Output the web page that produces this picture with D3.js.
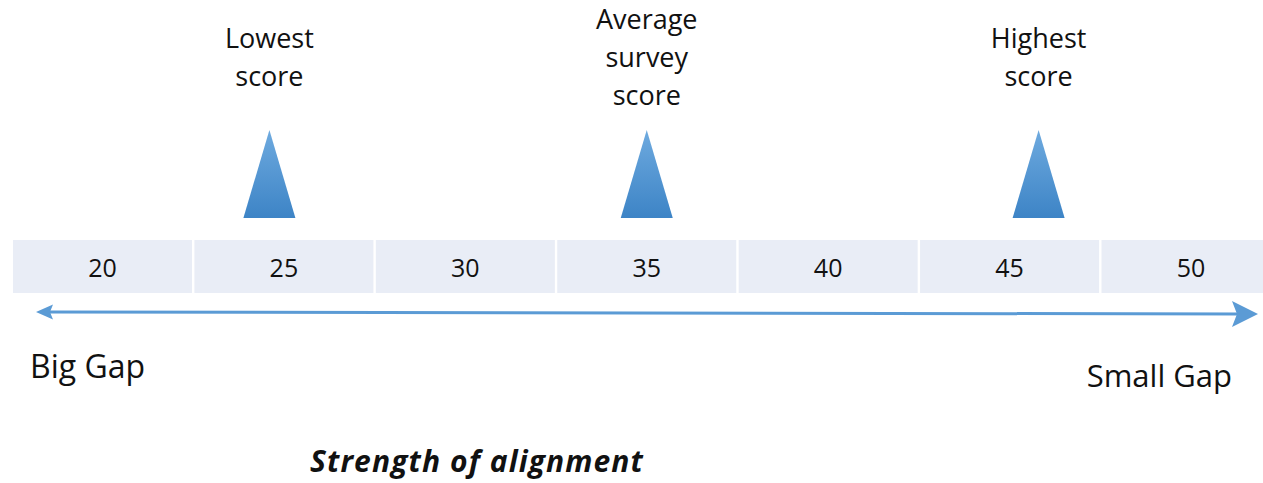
<!DOCTYPE html>
<html><head><meta charset="utf-8">
<script src="https://cdn.jsdelivr.net/npm/d3@7"></script>
<style>body{margin:0;background:#fff;overflow:hidden}svg{display:block}</style>
</head><body>
<script>
const ticks = [20, 25, 30, 35, 40, 45, 50];
const markerLabels = [["Lowest", "score"], ["Average", "survey", "score"], ["Highest", "score"]];
const markerValues = [24.6, 35.0, 45.8];
const endLabels = ["Big Gap", "Small Gap"];
const axisTitle = "Strength of alignment";

const W = 1263, H = 483;
const svg = d3.select("body").append("svg").attr("width", W).attr("height", H);
const x = d3.scaleLinear().domain([20, 50]).range([102.5, 1191]);
const step = x(25) - x(20);
const font = "'Open Sans', sans-serif";

const defs = svg.append("defs");
const g = defs.append("linearGradient").attr("id", "tri").attr("x1", 0).attr("y1", 0).attr("x2", 0).attr("y2", 1);
g.append("stop").attr("offset", "0%").attr("stop-color", "#6eaadf");
g.append("stop").attr("offset", "100%").attr("stop-color", "#3d84c6");

// band cells
svg.selectAll("rect.cell").data(ticks).enter().append("rect")
  .attr("x", d => x(d) - (step - 2.4) / 2).attr("y", 240)
  .attr("width", step - 2.4).attr("height", 53).attr("fill", "#e9edf6");
svg.selectAll("text.tick").data(ticks).enter().append("text")
  .attr("x", d => x(d)).attr("y", 277).attr("text-anchor", "middle")
  .attr("font-family", font).attr("font-size", 25).attr("fill", "#111").text(d => d);

// triangles
svg.selectAll("path.tri").data(markerValues).enter().append("path")
  .attr("d", d => `M${x(d)},130 L${x(d) + 26},218 L${x(d) - 26},218 Z`)
  .attr("fill", "url(#tri)");

// marker labels
markerLabels.forEach((lines, i) => {
  const t = svg.append("text").attr("text-anchor", "middle").attr("font-family", font)
    .attr("font-size", 27).attr("fill", "#111");
  const y0 = lines.length === 3 ? 29 : 48;
  lines.forEach((l, j) => t.append("tspan").attr("x", x(markerValues[i])).attr("y", y0 + j * 38).text(l));
});

// arrow
const ax0 = 36, ax1 = 1258;
svg.append("line").attr("x1", ax0 + 12).attr("y1", 312).attr("x2", ax1 - 18).attr("y2", 314)
  .attr("stroke", "#5b9bd5").attr("stroke-width", 3);
svg.append("path").attr("d", `M${ax0},312 L${ax0 + 17},304.5 L${ax0 + 14},312 L${ax0 + 17},319.5 Z`).attr("fill", "#5b9bd5");
svg.append("path").attr("d", `M${ax1},314 L${ax1 - 26},301 L${ax1 - 21},314 L${ax1 - 26},327 Z`).attr("fill", "#5b9bd5");

// end labels
svg.append("text").attr("x", 30).attr("y", 378).attr("font-family", font).attr("font-size", 32)
  .attr("fill", "#111").text(endLabels[0]);
svg.append("text").attr("x", 1232).attr("y", 387).attr("text-anchor", "end").attr("font-family", font).attr("font-size", 31)
  .attr("fill", "#111").text(endLabels[1]);

// title
svg.append("text").attr("x", 477).attr("y", 472).attr("text-anchor", "middle").attr("font-family", font)
  .attr("font-size", 30).attr("font-weight", "bold").attr("font-style", "italic")
  .attr("letter-spacing", 1.1).attr("fill", "#111").text(axisTitle);
</script>
</body></html>
